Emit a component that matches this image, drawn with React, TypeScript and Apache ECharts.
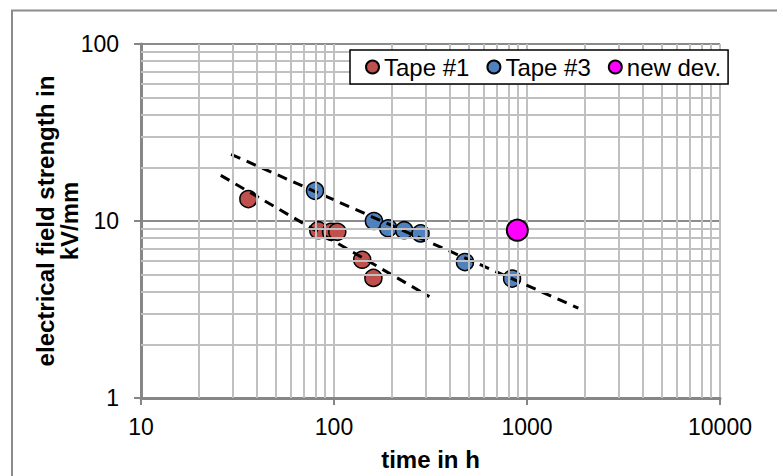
import React, { useEffect, useRef } from "react";
import * as echarts from "echarts";

// Data (time in h, field strength in kV/mm)
const tape1Time = [36.0, 82.9, 96.5, 104, 140, 160];
const tape1Field = [13.3, 8.87, 8.69, 8.69, 6.04, 4.77];
const tape3Time = [79.7, 161, 191, 231, 281, 477, 837];
const tape3Field = [14.8, 10.0, 9.1, 8.87, 8.51, 5.86, 4.73];
const newDevTime = [891];
const newDevField = [8.87];
const fit3Time = [29.3, 1845];
const fit3Field = [23.8, 3.22];
const fit1Time = [25.9, 312];
const fit1Field = [18.1, 3.74];
const xMinorValues = [20, 30, 40, 50, 60, 70, 80, 90, 200, 300, 400, 500, 600, 700, 800, 900, 2000, 3000, 4000, 5000, 6000, 7000, 8000, 9000];
const yMinorValues = [2, 3, 4, 5, 6, 7, 8, 9, 20, 30, 40, 50, 60, 70, 80, 90];
const legendNames = ["Tape #1", "Tape #3", "new dev."];

const zip = (a: number[], b: number[]) => a.map((v, i) => [v, b[i]]);

const FONT = "'Liberation Sans', Arial, sans-serif";

export default function App() {
  const ref = useRef<HTMLDivElement>(null);
  useEffect(() => {
    document.body.style.margin = "0";
    const chart = echarts.init(ref.current!, null, { renderer: "svg" });
    const markerBorder = { borderColor: "#000", borderWidth: 1.5, opacity: 1 };
    chart.setOption({
      animation: false,
      textStyle: { fontFamily: FONT },
      graphic: [
        {
          type: "rect",
          shape: { x: 12, y: 10.5, width: 820, height: 520 },
          style: { fill: "none", stroke: "#8c8c8c", lineWidth: 2 },
          silent: true,
          z: -10,
        },
      ],
      grid: { left: 141, top: 44, right: 57, bottom: 73.3 },
      legend: {
        data: legendNames,
        left: 350,
        top: 50,
        z: 100,
        orient: "horizontal",
        backgroundColor: "#fff",
        borderColor: "#000",
        borderWidth: 1.5,
        borderRadius: 0,
        padding: [5, 7, 5, 15],
        itemGap: 17,
        itemWidth: 13,
        itemHeight: 13,
        icon: "circle",
        textStyle: { fontSize: 24, color: "#000", fontFamily: FONT },
      },
      xAxis: {
        type: "log",
        logBase: 10,
        min: 10,
        max: 10000,
        name: "time in h",
        nameLocation: "middle",
        nameGap: 49,
        nameMoveOverlap: false,
        nameTextStyle: { fontSize: 24, fontWeight: "bold", color: "#000", fontFamily: FONT },
        axisLine: { show: true, lineStyle: { color: "#868686", width: 3 } },
        axisTick: { show: true, length: 7, lineStyle: { color: "#868686", width: 2 } },
        axisLabel: {
          fontSize: 23,
          color: "#000",
          margin: 17,
          fontFamily: FONT,
          formatter: (v: number) => String(Math.round(v)),
        },
        splitLine: { show: true, lineStyle: { color: "#c0c0c0", width: 2 } },
      },
      yAxis: {
        type: "log",
        logBase: 10,
        min: 1,
        max: 100,
        name: "electrical field strength in\nkV/mm",
        nameLocation: "middle",
        nameGap: 60,
        nameMoveOverlap: false,
        nameTextStyle: { fontSize: 24, fontWeight: "bold", color: "#000", lineHeight: 24, fontFamily: FONT },
        axisLine: { show: true, lineStyle: { color: "#868686", width: 3 } },
        axisTick: { show: true, length: 7, lineStyle: { color: "#868686", width: 2 } },
        axisLabel: {
          fontSize: 23,
          color: "#000",
          margin: 22,
          fontFamily: FONT,
          formatter: (v: number) => String(Math.round(v)),
        },
        splitLine: { show: true, lineStyle: { color: "#8c8c8c", width: 2 } },
      },
      series: [
        {
          name: "minor grid",
          type: "line",
          data: [],
          z: 1,
          markLine: {
            silent: true,
            symbol: "none",
            label: { show: false },
            lineStyle: { color: "#c0c0c0", width: 2, type: "solid" },
            data: [
              ...xMinorValues.map((v) => ({ xAxis: v })),
              ...yMinorValues.map((v) => ({ yAxis: v })),
            ],
          },
        },
        {
          name: "Tape #1",
          type: "scatter",
          data: zip(tape1Time, tape1Field),
          symbol: "circle",
          symbolSize: 17,
          itemStyle: { color: "#C0504D", ...markerBorder },
          z: 3,
        },
        {
          name: "Tape #3",
          type: "scatter",
          data: zip(tape3Time, tape3Field),
          symbol: "circle",
          symbolSize: 17,
          itemStyle: { color: "#4F81BD", ...markerBorder },
          z: 3,
        },
        {
          name: "new dev.",
          type: "scatter",
          data: zip(newDevTime, newDevField),
          symbol: "circle",
          symbolSize: 21,
          itemStyle: { color: "#FF00FF", borderColor: "#000", borderWidth: 2, opacity: 1 },
          z: 5,
        },
        {
          name: "fit Tape #3",
          type: "line",
          data: zip(fit3Time, fit3Field),
          showSymbol: false,
          symbol: "none",
          lineStyle: { color: "#000", width: 3, type: [10, 7] },
          z: 4,
        },
        {
          name: "fit Tape #1",
          type: "line",
          data: zip(fit1Time, fit1Field),
          showSymbol: false,
          symbol: "none",
          lineStyle: { color: "#000", width: 3, type: [10, 7] },
          z: 4,
        },
      ],
    });
    return () => chart.dispose();
  }, []);
  return <div ref={ref} style={{ width: 777, height: 476 }} />;
}
